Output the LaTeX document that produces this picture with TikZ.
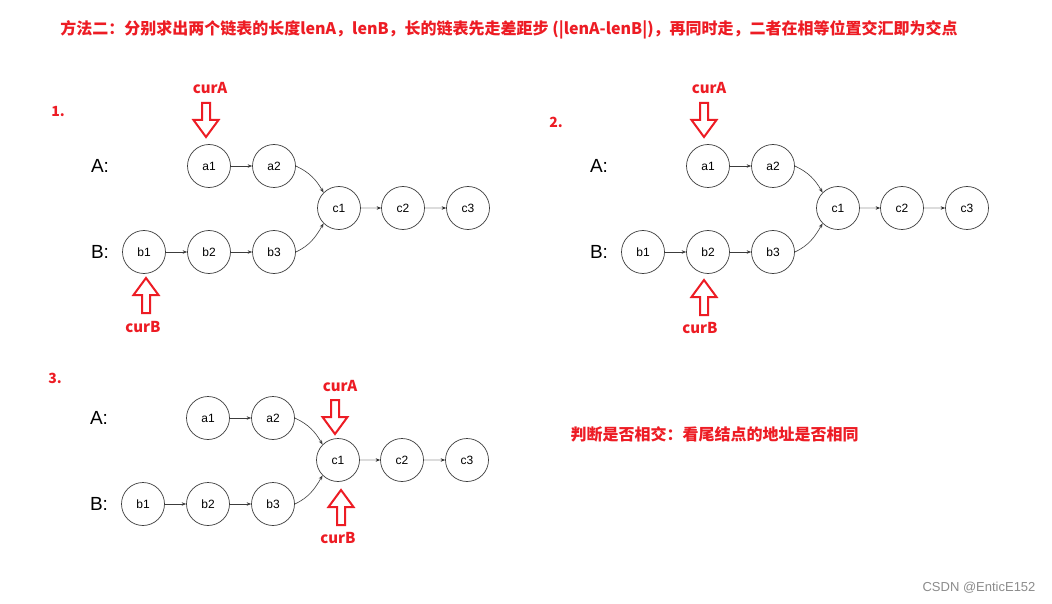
\documentclass[tikz,border=0pt]{standalone}
\usepackage{fontspec}
\setmainfont{Liberation Sans}
\newfontfamily\cjk{Noto Sans CJK SC}
\usetikzlibrary{arrows.meta}
\definecolor{redA}{RGB}{237,28,36}
\definecolor{lineC}{RGB}{60,60,60}
\definecolor{lightC}{RGB}{220,220,220}
\tikzset{
  lnode/.style={circle,draw=lineC,line width=0.7pt,minimum size=43pt,inner sep=0pt,font=\fontsize{12}{12}\selectfont},
  darr/.style={draw=lineC,line width=0.6pt,-{Stealth[length=4.5pt,width=3.5pt]}},
  larr/.style={draw=lightC,line width=1.2pt,-{Stealth[length=4.5pt,width=3.5pt,color=black!85]}},
  rlabel/.style={text=redA,font=\cjk\bfseries\fontsize{15}{15}\selectfont},
  rbig/.style={text=redA,font=\cjk\bfseries\fontsize{16}{16}\selectfont},
  ablabel/.style={font=\fontsize{19}{19}\selectfont},
  blockarr/.style={draw=redA,line width=2pt,line join=miter},
}
\newcommand{\listgraph}[1]{%
  \node[ablabel] (#1A) at (100,166) {A:};
  \node[ablabel] (#1B) at (100,252) {B:};
  \node[lnode] (#1a1) at (209,166) {a1};
  \node[lnode] (#1a2) at (274,166) {a2};
  \node[lnode] (#1c1) at (339,208) {c1};
  \node[lnode] (#1c2) at (403,208) {c2};
  \node[lnode] (#1c3) at (468,208) {c3};
  \node[lnode] (#1b1) at (144,252) {b1};
  \node[lnode] (#1b2) at (209,252) {b2};
  \node[lnode] (#1b3) at (274,252) {b3};
  \draw[darr] (#1a1) -- (#1a2);
  \draw[darr] (#1b1) -- (#1b2);
  \draw[darr] (#1b2) -- (#1b3);
  \draw[larr] (#1c1) -- (#1c2);
  \draw[larr] (#1c2) -- (#1c3);
  \draw[darr] (#1a2.east) to[out=-25,in=120] (#1c1.135);
  \draw[darr] (#1b3.east) to[out=25,in=-120] (#1c1.225);
}
\newcommand{\downarr}[1]{\draw[blockarr] (#1) -- ++(-12.5,-17) -- ++(8.5,0) -- ++(0,-17) -- ++(8,0) -- ++(0,17) -- ++(8.5,0) -- cycle;}
\newcommand{\uparr}[1]{\draw[blockarr] (#1) -- ++(-12.5,17) -- ++(8.5,0) -- ++(0,18) -- ++(8,0) -- ++(0,-18) -- ++(8.5,0) -- cycle;}
\begin{document}
\begin{tikzpicture}[x=1pt,y=-1pt]
\useasboundingbox[fill=white] (0,0) rectangle (1052,604);
\node[rbig] (title) at (509,30) {方法二：分别求出两个链表的长度lenA，lenB，长的链表先走差距步 (|lenA-lenB|)，再同时走，二者在相等位置交汇即为交点};
% panel 1
\node[rlabel,font=\cjk\bfseries\fontsize{14}{14}\selectfont] (n1) at (58,112) {1.};
\begin{scope}
\listgraph{p}
\end{scope}
\node[rlabel] (pcurA) at (210,88) {curA};
\coordinate (pdt) at (206,137);
\downarr{pdt}
\coordinate (put) at (146,278);
\uparr{put}
\node[rlabel] (pcurB) at (143,327) {curB};
% panel 2
\node[rlabel,font=\cjk\bfseries\fontsize{14}{14}\selectfont] (n2) at (556,122) {2.};
\begin{scope}[shift={(499,0)}]
\listgraph{q}
\end{scope}
\node[rlabel] (qcurA) at (709,88) {curA};
\coordinate (qdt) at (704,137);
\downarr{qdt}
\coordinate (qut) at (704,280);
\uparr{qut}
\node[rlabel] (qcurB) at (700,328) {curB};
% panel 3
\node[rlabel,font=\cjk\bfseries\fontsize{14}{14}\selectfont] (n3) at (55,378) {3.};
\begin{scope}[shift={(-1,252)}]
\listgraph{r}
\end{scope}
\node[rlabel] (rcurA) at (340,386) {curA};
\coordinate (rdt) at (335,434);
\downarr{rdt}
\coordinate (rut) at (341,490);
\uparr{rut}
\node[rlabel] (rcurB) at (338,538) {curB};
% note
\node[rbig,anchor=west] (note) at (567,434) {判断是否相交：看尾结点的地址是否相同};
\node[anchor=east,text=black!45,font=\fontsize{13}{13}\selectfont] (wm) at (1039,588) {CSDN @EnticE152};
\end{tikzpicture}
\end{document}
